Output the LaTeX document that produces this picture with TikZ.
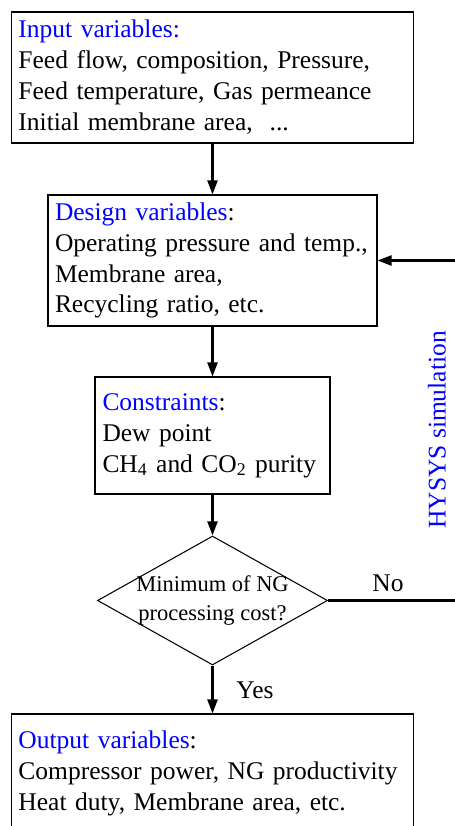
\documentclass[tikz,border=0pt]{standalone}
\usepackage{fontspec}
\setmainfont{Liberation Serif}
\usetikzlibrary{arrows.meta,shapes.geometric}
\definecolor{hblue}{RGB}{0,0,255}
\tikzset{
  box/.style={draw,line width=0.6pt,rectangle,inner xsep=0.14cm,inner ysep=0pt,align=left,
    font=\fontsize{14.5}{17.6}\selectfont},
  decide/.style={draw,line width=0.6pt,diamond,aspect=1.78,inner sep=-4pt,align=center,
    minimum width=4.6cm,minimum height=2.58cm,font=\fontsize{12.8}{16.2}\selectfont},
  flow/.style={line width=1.2pt,-{Triangle[length=0.28cm,width=0.2cm]}},
  lbl/.style={font=\fontsize{14.5}{17.6}\selectfont},
}
\begin{document}
\begin{tikzpicture}
\useasboundingbox (0,0) rectangle (9.1,-16.52);
%boxes
\node[box,minimum width=8.04cm,minimum height=2.62cm,text width=7.76cm] (input) at (4.25,-1.55)
  {\textcolor{hblue}{Input variables:}\\ Feed flow, composition, Pressure,\\ Feed temperature, Gas permeance\\ Initial membrane area,\ \ ...};
\node[box,minimum width=6.58cm,minimum height=2.62cm,text width=6.30cm] (design) at (4.25,-5.21)
  {\textcolor{hblue}{Design variables}:\\ Operating pressure and temp.,\\ Membrane area,\\ Recycling ratio, etc.};
\node[box,minimum width=4.70cm,minimum height=2.34cm,text width=4.40cm] (constr) at (4.25,-8.71)
  {\textcolor{hblue}{Constraints}:\\ Dew point\\ CH\textsubscript{4} and CO\textsubscript{2} purity};
\node[decide] (cost) at (4.25,-12.01) {Minimum of NG\\ processing cost?};
\node[box,minimum width=8.04cm,minimum height=2.36cm,text width=7.76cm] (output) at (4.25,-15.46)
  {\textcolor{hblue}{Output variables}:\\ Compressor power, NG productivity\\ Heat duty, Membrane area, etc.};
%loop back, corner lies off the page
\coordinate (loop) at (9.4,-8.6);
%arrows
\draw[flow] (input.south) -- (design.north);
\draw[flow] (design.south) -- (constr.north);
\draw[flow] (constr.south) -- (cost.north);
\draw[flow] (cost.south) -- (output.north);
\draw[flow] (cost.east) -- (cost.east -| loop) |- (design.east);
%labels
\node[lbl] (no) at (7.76,-11.66) {No};
\node[lbl] (yes) at (5.1,-13.8) {Yes};
\node[lbl,text=hblue,rotate=90] (hysys) at (8.74,-8.6) {HYSYS simulation};
\end{tikzpicture}
\end{document}
